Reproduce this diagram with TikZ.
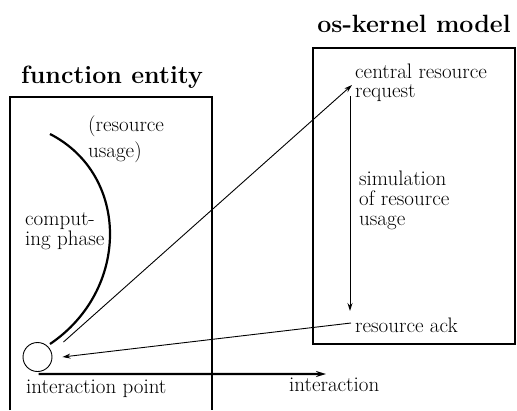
\documentclass[tikz,border=0pt]{standalone}
\usetikzlibrary{arrows.meta}
\begin{document}
\begin{tikzpicture}[x=1pt,y=-1pt,
    every node/.style={font=\fontsize{21}{20}\selectfont, inner sep=0pt, anchor=base west, align=left},
    title/.style={font=\fontsize{25}{26}\selectfont\bfseries, anchor=base},
    flow/.style={-{Stealth[length=8pt,width=5pt]}, line width=0.9pt},
    heavy/.style={line width=2.2pt}]
    \useasboundingbox (0,0) rectangle (517,410);

    % function entity
    \node[title] (fetitle) at (112,83) {function entity};
    \draw[line width=1.1pt] (10,410) -- (10,97) -- (212,97) -- (212,410);
    \draw[heavy] (50,134) .. controls (130,175) and (130,290) .. (50,344);
    \node (usage) at (88,157) {(resource\\[4pt]usage)};
    \node (comp) at (25,245) {comput-\\ing phase};
    \node[circle, draw, line width=0.9pt, minimum size=29pt, anchor=center] (ip) at (37.5,357) {};
    \node (iplabel) at (26,393) {interaction point};

    % os-kernel model
    \node[title] (oktitle) at (414,32) {os-kernel model};
    \draw[line width=1.1pt] (313,48) rectangle (515,344);
    \node (req) at (355,97) {central resource\\[-1pt]request};
    \node (sim) at (359,225) {simulation\\of resource\\usage};
    \node (ack) at (355,332) {resource ack};
    \node (inter) at (289,391) {interaction};

    \coordinate (reqin) at (352,85);
    \coordinate (simtop) at (350,96);
    \coordinate (simbot) at (350,311);
    \coordinate (ackout) at (351,323);
    \coordinate (interend) at (326,374);

    \draw[flow] ([shift={(26,-15)}]ip.center) -- (reqin);
    \draw[flow] (simtop) -- (simbot);
    \draw[flow] (ackout) -- ([xshift=10pt]ip.east);
    \draw[heavy, -{Stealth[length=10pt,width=6pt]}] ([xshift=1pt,yshift=-2pt]ip.south) -- (interend);
\end{tikzpicture}
\end{document}
